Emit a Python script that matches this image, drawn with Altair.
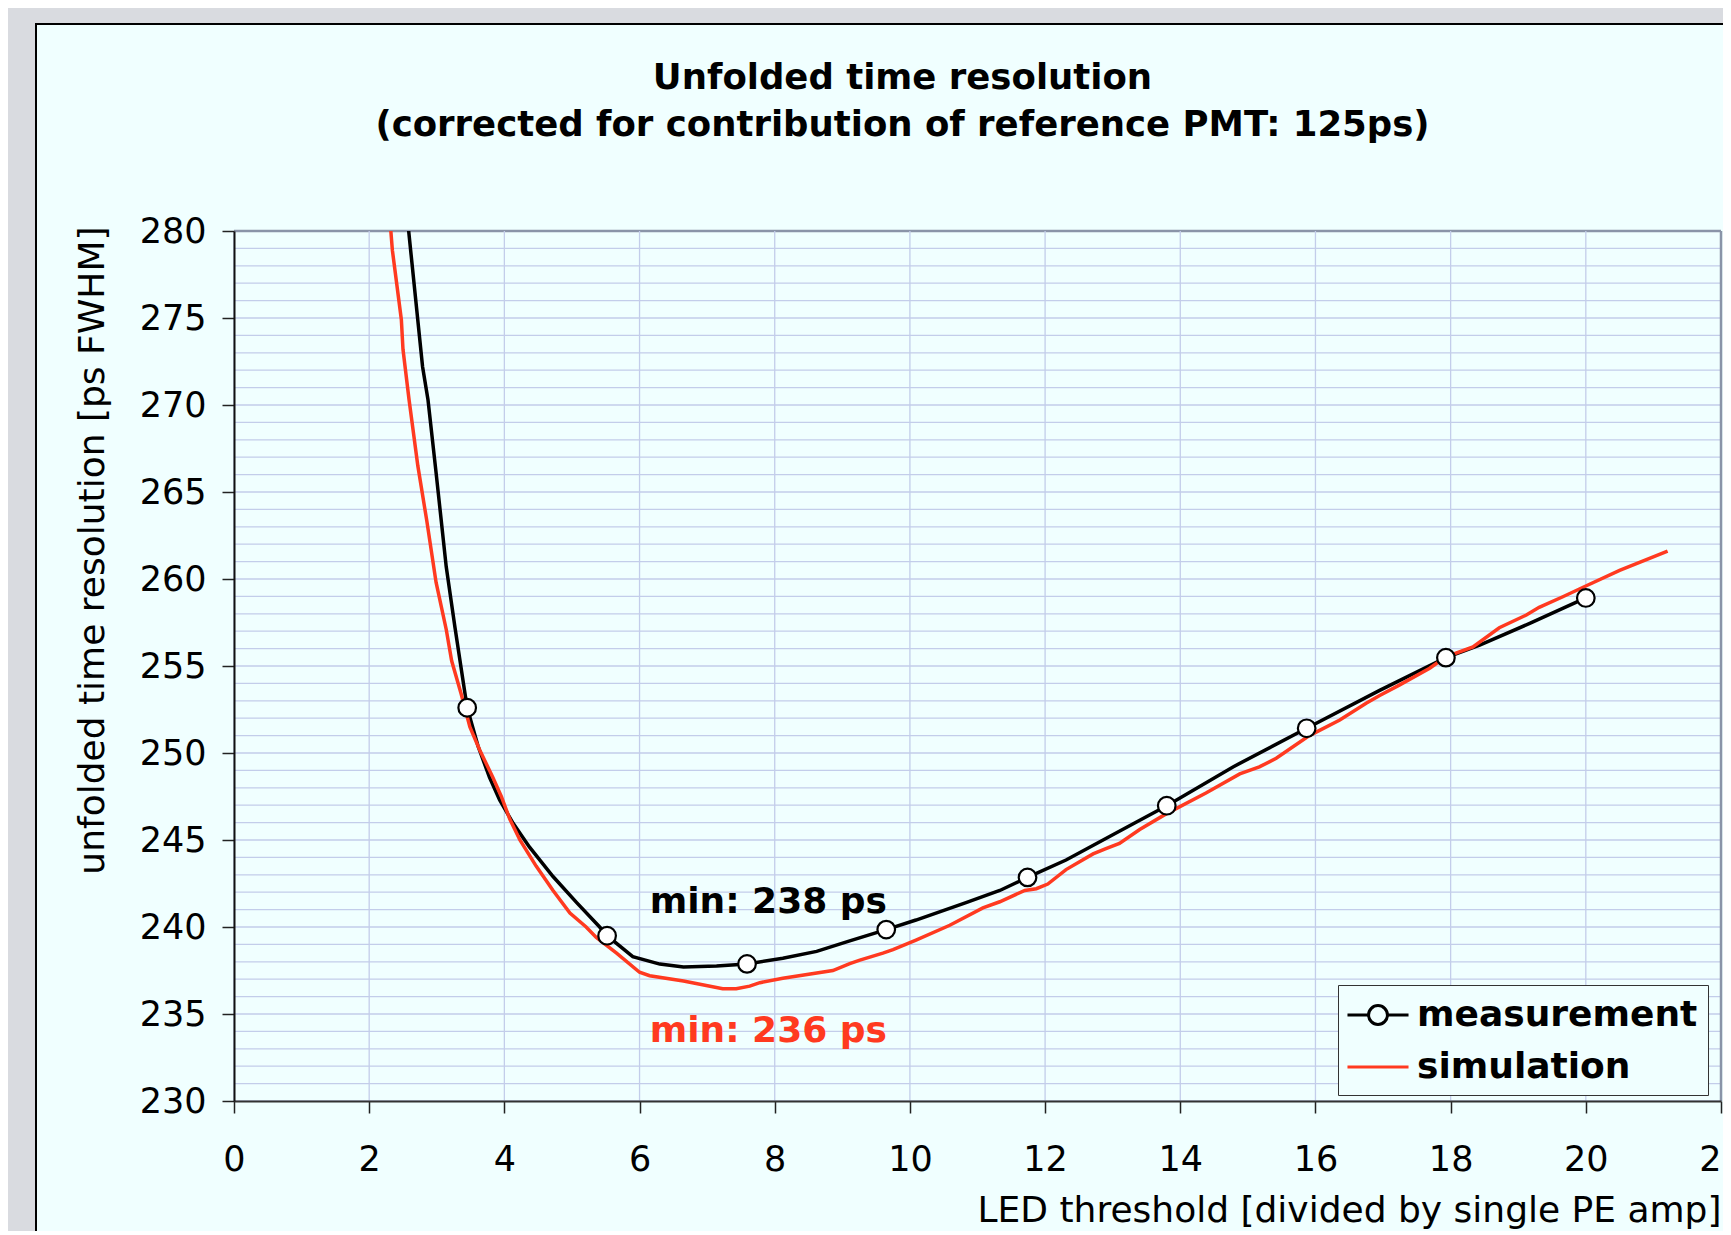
import altair as alt
import pandas as pd

RED = "#ff3a20"
AZURE = "#f0ffff"
OUTER = "#d9dbe0"
GRID = "#c3cdea"
BORDER = "#8a94a8"
FONT = "DejaVu Sans"

# ---- data ----
meas_x = [3.45, 5.52, 7.59, 9.65, 11.74, 13.80, 15.87, 17.93, 20.00]
meas_y = [252.6, 239.5, 237.88, 239.85, 242.85, 246.97, 251.42, 255.48, 258.91]

meas_line_x = [2.55, 2.79, 2.87, 2.99, 3.14, 3.27, 3.41, 3.45, 3.61, 3.78, 3.93, 4.13,
               4.37, 4.72, 5.07, 5.41, 5.52, 5.90, 6.30, 6.65, 7.14, 7.59, 8.12, 8.62,
               9.11, 9.65, 10.09, 10.83, 11.33, 11.74, 12.31, 13.05, 13.80, 14.78,
               15.87, 16.95, 17.93, 18.43, 19.17, 20.00]
meas_line_y = [281.3, 272.2, 270.3, 266.1, 260.7, 257.2, 253.6, 252.6, 250.4, 248.6,
               247.3, 245.96, 244.6, 242.9, 241.4, 240.0, 239.5, 238.3, 237.87, 237.7,
               237.76, 237.88, 238.2, 238.6, 239.2, 239.85, 240.4, 241.4, 242.1, 242.85,
               243.85, 245.4, 246.97, 249.2, 251.42, 253.6, 255.48, 256.2, 257.45, 258.91]

sim_x = [2.30, 2.343, 2.476, 2.50, 2.59, 2.72, 2.85, 2.99, 3.14, 3.22, 3.36, 3.49,
         3.635, 3.83, 3.955, 4.08, 4.23, 4.47, 4.72, 4.97, 5.21, 5.36, 5.66, 6.00,
         6.15, 6.65, 7.23, 7.43, 7.63, 7.78, 8.12, 8.86, 9.11, 9.26, 9.60, 9.75,
         10.09, 10.59, 11.08, 11.33, 11.70, 11.87, 12.04, 12.31, 12.71, 12.90, 13.10,
         13.40, 13.79, 14.38, 14.88, 15.17, 15.42, 15.91, 16.36, 16.75, 16.95, 17.24,
         17.69, 17.93, 18.33, 18.72, 19.12, 19.31, 19.66, 20.00, 20.50, 21.21]
sim_y = [281.0, 278.9, 274.9, 273.2, 270.3, 266.5, 263.4, 259.8, 257.1, 255.3, 253.4,
         251.5, 250.17, 248.6, 247.5, 246.2, 245.0, 243.5, 242.1, 240.8, 240.0, 239.4,
         238.5, 237.4, 237.2, 236.9, 236.45, 236.45, 236.6, 236.8, 237.05, 237.5, 237.9,
         238.1, 238.5, 238.7, 239.25, 240.1, 241.1, 241.45, 242.1, 242.2, 242.47, 243.3,
         244.2, 244.5, 244.8, 245.6, 246.5, 247.7, 248.8, 249.2, 249.7, 251.0, 251.9,
         252.86, 253.3, 253.9, 254.87, 255.53, 256.1, 257.2, 257.93, 258.37, 258.98,
         259.6, 260.5, 261.6]

series_names = ["measurement", "simulation"]

ann_text = ["min: 238 ps", "min: 236 ps"]
ann_x = [6.15, 6.15]
ann_y = [240.8, 233.4]

x_ticks = list(range(0, 23, 2))
y_ticks = list(range(230, 281, 5))
y_grid = list(range(230, 281, 1))

title_lines = ["Unfolded time resolution",
               "(corrected for contribution of reference PMT: 125ps)"]
x_title = "LED threshold [divided by single PE amp]"
y_title = "unfolded time resolution [ps FWHM]"

# ---- tables ----
meas_line_df = pd.DataFrame({"x": meas_line_x, "y": meas_line_y})
sim_df = pd.DataFrame({"x": sim_x, "y": sim_y})
pts_df = pd.DataFrame({"x": meas_x, "y": meas_y})
ann_df = pd.DataFrame({"x": ann_x, "y": ann_y, "label": ann_text})
hgrid_df = pd.DataFrame({"y": y_grid})
vgrid_df = pd.DataFrame({"x": x_ticks})
legend_df = pd.DataFrame({"series": series_names})

W, H = 1487, 870

xscale = alt.Scale(domain=[0, 22], nice=False, zero=False)
yscale = alt.Scale(domain=[230, 280], nice=False, zero=False)

x_axis = alt.Axis(values=x_ticks, grid=False, format="d", title=x_title,
                  titleFont=FONT, titleFontSize=36, titleFontWeight="normal", titleColor="black",
                  titleX=W, titleY=120, titleAlign="right", titleBaseline="alphabetic",
                  labelFont=FONT, labelFontSize=35, labelColor="black", labelPadding=29,
                  labelFlush=False, labelOverlap=False,
                  tickSize=12, tickColor="#222222", tickWidth=1.5,
                  domainColor="#333333", domainWidth=2, zindex=1)
y_axis = alt.Axis(values=y_ticks, grid=False, format="d", title=y_title,
                  titleFont=FONT, titleFontSize=36, titleFontWeight="normal", titleColor="black",
                  titleX=-131, titleY=-5, titleAlign="right", titleBaseline="alphabetic",
                  labelFont=FONT, labelFontSize=35, labelColor="black", labelPadding=16,
                  labelOverlap=False,
                  tickSize=12, tickColor="#222222", tickWidth=1.5,
                  domainColor="#111111", domainWidth=2, zindex=1)

X = alt.X("x:Q", scale=xscale, axis=x_axis)
Y = alt.Y("y:Q", scale=yscale, axis=y_axis)

# legend symbols (unit = half of sqrt(symbolSize))
MEAS_PATH = ("M-1.65,0L-0.51,0M0.51,0L1.65,0M-0.51,0A0.51,0.51,0,1,1,0.51,0"
             "A0.51,0.51,0,1,1,-0.51,0Z")
SIM_PATH = "M-1.65,0L1.65,0"

legend = alt.Legend(
    title=None, orient="none", legendX=1104, legendY=754, direction="vertical",
    fillColor=AZURE, strokeColor="#333333", padding=10, cornerRadius=0,
    labelFont=FONT, labelFontSize=36, labelFontWeight="bold", labelColor="black",
    labelOffset=19, labelLimit=500, symbolSize=1369, symbolStrokeWidth=3,
    symbolOffset=10, symbolOpacity=1, rowPadding=14, zindex=2,
)
color_scale = alt.Scale(domain=series_names, range=["#000000", RED])

frame = alt.Chart(pd.DataFrame({"k": [0]})).mark_rect(
    fill=AZURE, stroke="black", strokeWidth=2, clip=False
).encode(x=alt.value(-198), x2=alt.value(1700), y=alt.value(-207), y2=alt.value(1300))

hgrid = alt.Chart(hgrid_df).mark_rule().encode(
    y=Y,
    color=alt.condition("datum.y == 280", alt.value(BORDER), alt.value(GRID)),
    strokeWidth=alt.condition("datum.y == 280", alt.value(2.5), alt.value(1.3)),
)
vgrid = alt.Chart(vgrid_df).mark_rule().encode(
    x=X,
    color=alt.condition("datum.x == 22", alt.value(BORDER), alt.value(GRID)),
    strokeWidth=alt.condition("datum.x == 22", alt.value(2.5), alt.value(1.3)),
)

meas_line = alt.Chart(meas_line_df).mark_line(strokeWidth=3.5, clip=True, color="#000000").encode(
    x=X, y=Y, order=alt.Order("x:Q"))
sim_line = alt.Chart(sim_df).mark_line(strokeWidth=3.5, clip=True, color=RED).encode(
    x=X, y=Y, order=alt.Order("x:Q"))
points = alt.Chart(pts_df).mark_point(
    shape="circle", filled=True, fill="white", stroke="black", strokeWidth=2.2,
    size=310, opacity=1).encode(x=X, y=Y)

# legend carrier: invisible (placed far outside and clipped), only drives the legend
legend_layer = alt.Chart(legend_df).mark_point(filled=False, strokeWidth=3, opacity=1,
                                                clip=True).encode(
    x=alt.value(-4000), y=alt.value(-4000),
    color=alt.Color("series:N", scale=color_scale, legend=legend),
    shape=alt.Shape("series:N", scale=alt.Scale(domain=series_names, range=[MEAS_PATH, SIM_PATH]),
                    legend=legend),
)

ann_black = alt.Chart(ann_df.iloc[[0]]).mark_text(
    align="left", baseline="alphabetic", font=FONT, fontWeight="bold", fontSize=36,
    color="black").encode(x=X, y=Y, text="label:N")
ann_red = alt.Chart(ann_df.iloc[[1]]).mark_text(
    align="left", baseline="alphabetic", font=FONT, fontWeight="bold", fontSize=36,
    color=RED).encode(x=X, y=Y, text="label:N")

chart = alt.layer(frame, hgrid, vgrid, meas_line, sim_line, points, ann_black, ann_red,
                  legend_layer).properties(
    width=W, height=H,
    title=alt.TitleParams(text=title_lines, font=FONT, fontSize=35.5, fontWeight="bold",
                          color="black", anchor="middle", frame="group", dx=-75,
                          lineHeight=47, offset=-120),
    padding={"left": 226, "top": 223, "right": 2, "bottom": 130},
    autosize=alt.AutoSizeParams(type="none"),
).configure(background=OUTER).configure_view(stroke="transparent", fill=None)

chart.save("out.html", embed_options={"renderer": "svg", "actions": False})
